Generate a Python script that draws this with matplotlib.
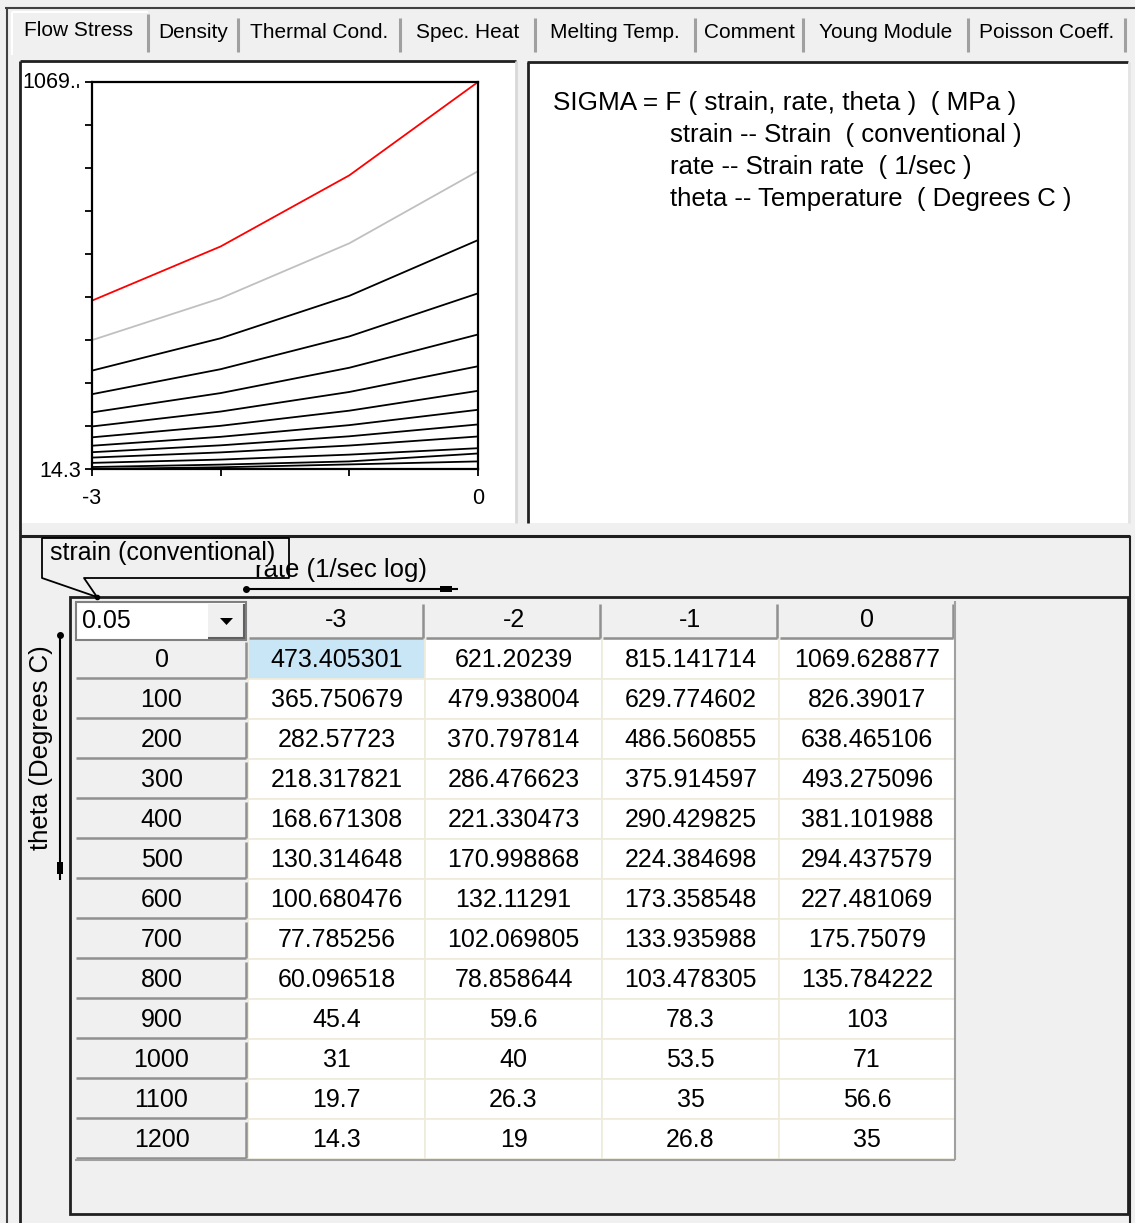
import numpy as np
import matplotlib
matplotlib.use("Agg")
import matplotlib.pyplot as plt
from matplotlib.patches import Rectangle, Polygon

plt.rcParams['font.family'] = ['Liberation Sans', 'DejaVu Sans']

# data: flow stress table, strain = 0.05
rates = [-3, -2, -1, 0]
thetas = [0, 100, 200, 300, 400, 500, 600, 700, 800, 900, 1000, 1100, 1200]
sigma_text = [
    ["473.405301", "621.20239", "815.141714", "1069.628877"],
    ["365.750679", "479.938004", "629.774602", "826.39017"],
    ["282.57723", "370.797814", "486.560855", "638.465106"],
    ["218.317821", "286.476623", "375.914597", "493.275096"],
    ["168.671308", "221.330473", "290.429825", "381.101988"],
    ["130.314648", "170.998868", "224.384698", "294.437579"],
    ["100.680476", "132.11291", "173.358548", "227.481069"],
    ["77.785256", "102.069805", "133.935988", "175.75079"],
    ["60.096518", "78.858644", "103.478305", "135.784222"],
    ["45.4", "59.6", "78.3", "103"],
    ["31", "40", "53.5", "71"],
    ["19.7", "26.3", "35", "56.6"],
    ["14.3", "19", "26.8", "35"],
]
sigma = np.array([[float(v) for v in row] for row in sigma_text])
strain_value = "0.05"

tabs = ["Flow Stress", "Density", "Thermal Cond.", "Spec. Heat", "Melting Temp.",
        "Comment", "Young Module", "Poisson Coeff."]
tab_edges = [10, 148, 238, 400, 535, 695, 803, 968, 1125]

formula = ["SIGMA = F ( strain, rate, theta )  ( MPa )",
           "strain -- Strain  ( conventional )",
           "rate -- Strain rate  ( 1/sec )",
           "theta -- Temperature  ( Degrees C )"]

W, H = 1135, 1223
BG = "#f0f0f0"
FS = 18
fig = plt.figure(figsize=(W / 100, H / 100), dpi=100, facecolor=BG)

ui = fig.add_axes([0, 0, 1, 1])
ui.set_xlim(0, W)
ui.set_ylim(H, 0)
ui.axis("off")
ui.set_zorder(0)


def rect(x0, y0, x1, y1, fc="none", ec="none", lw=1.0, z=1):
    ui.add_patch(Rectangle((x0, y0), x1 - x0, y1 - y0, facecolor=fc,
                           edgecolor=ec, linewidth=lw, zorder=z))


def line(xs, ys, c="black", lw=1.0, z=2):
    ui.plot(xs, ys, color=c, linewidth=lw, zorder=z, solid_capstyle="butt")


# --- outer frame + tabs ---
line([5, W], [8, 8], c="#404040", lw=1.5)
line([7, 7], [8, H], c="#404040", lw=1.5)
for i, name in enumerate(tabs):
    x0, x1 = tab_edges[i], tab_edges[i + 1]
    yc = 30 if i == 0 else 33
    ui.text((x0 + x1) / 2, yc, name, ha="center", va="center", fontsize=15, zorder=3)
    line([x1, x1], [14 if i == 0 else 18, 52], c="#a0a0a0", lw=2.2)
line([12, 12], [12, 55], c="white", lw=1.5)
line([12, 148], [12, 12], c="white", lw=1.5)

# --- upper panels ---
rect(20, 60, 516, 523, fc="white", z=1)
line([20, 516], [61, 61], c="#202020", lw=2)
line([20, 20], [61, H], c="#202020", lw=2)
line([516, 516], [61, 523], c="#d8d8d8", lw=2)
rect(527, 61, 1128, 523, fc="white", z=1)
line([527, 1128], [62, 62], c="#202020", lw=2)
line([528, 528], [62, 523], c="#202020", lw=2)
line([1129, 1129], [62, 523], c="#e4e4e4", lw=2)

ui.text(553, 103, formula[0], ha="left", va="center", fontsize=18.8, zorder=3)
for k, txt in enumerate(formula[1:]):
    ui.text(670, 135 + 32 * k, txt, ha="left", va="center", fontsize=18.5, zorder=3)

# --- chart ---
ax = fig.add_axes([92 / W, 1 - 469 / H, (478 - 92) / W, (469 - 82) / H])
ax.set_zorder(1)
ymin, ymax = sigma.min(), sigma.max()
for i, th in enumerate(thetas):
    c = "#ff0000" if i == 0 else ("#c0c0c0" if i == 1 else "black")
    ax.plot(rates, sigma[i], color=c, linewidth=1.3)
ax.set_xlim(min(rates), max(rates))
ax.set_ylim(ymin, ymax)
ax.set_xticks(rates)
ax.set_xticklabels([str(rates[0])] + [""] * (len(rates) - 2) + [str(rates[-1])], fontsize=15.5)
ax.set_yticks(np.linspace(ymin, ymax, 10))
ax.set_yticklabels([f"{ymin:g}"] + [""] * 9, fontsize=15.5)
ax.tick_params(length=5, width=1.3, color="black")
ax.tick_params(axis="x", pad=9)
ax.tick_params(axis="y", pad=3)
for s in ax.spines.values():
    s.set_linewidth(1.6)
# top label is wider than its slot, only the first characters show
ui.text(22, 82, sigma_text[0][-1][:5], ha="left", va="center", fontsize=15.5, zorder=3)
line([78, 78], [84, 88], lw=1.2, z=3)

# --- lower panel ---
line([20, 1130], [536, 536], c="#202020", lw=2.2)
line([1130, 1130], [536, H], c="#202020", lw=1.5)
rect(70, 597, 1128, 1214, ec="#202020", lw=2, z=1)

col_x = [75, 248, 425, 602, 779, 955]
hdr_top, hdr_bot = 601, 639
row_h = 40

# column headers
for j, r in enumerate(rates):
    x0, x1 = col_x[j + 1], col_x[j + 2]
    rect(x0, hdr_top, x1, hdr_bot, fc=BG, z=2)
    line([x0 + 1, x1 - 2], [hdr_bot - 1, hdr_bot - 1], c="#909090", lw=1.8, z=3)
    line([x1 - 2, x1 - 2], [hdr_top + 3, hdr_bot - 1], c="#909090", lw=1.8, z=3)
    ui.text((x0 + x1) / 2, (hdr_top + hdr_bot) / 2, str(r), ha="center", va="center",
            fontsize=FS, zorder=4)

# combobox with the strain value
rect(76, 602, 246, 640, fc="white", ec="#808080", lw=1.5, z=3)
rect(208, 604, 244, 638, fc=BG, z=3)
line([244, 244], [604, 639], c="#606060", lw=1.5, z=4)
line([208, 244], [638, 638], c="#606060", lw=1.5, z=4)
ui.add_patch(Polygon([[220, 618], [233, 618], [226.5, 625]], closed=True,
                     facecolor="black", edgecolor="none", zorder=5))
ui.text(82, 621, strain_value, ha="left", va="center", fontsize=FS, zorder=5)

# rows
for i, th in enumerate(thetas):
    y0 = hdr_bot + i * row_h
    y1 = y0 + row_h
    rect(col_x[0], y0, col_x[1], y1, fc=BG, z=2)
    line([col_x[0] + 1, col_x[1] - 2], [y1 - 1, y1 - 1], c="#909090", lw=1.8, z=3)
    line([col_x[1] - 2, col_x[1] - 2], [y0 + 3, y1 - 1], c="#909090", lw=1.8, z=3)
    ui.text((col_x[0] + col_x[1]) / 2, (y0 + y1) / 2 + 1, str(th), ha="center",
            va="center", fontsize=FS, zorder=4)
    for j in range(len(rates)):
        x0, x1 = col_x[j + 1], col_x[j + 2]
        fc = "#c8e6f5" if (i == 0 and j == 0) else "white"
        rect(x0, y0, x1, y1, fc=fc, ec="#eeebdc", lw=1.2, z=2)
        ui.text((x0 + x1) / 2, (y0 + y1) / 2 + 1, sigma_text[i][j], ha="center",
                va="center", fontsize=FS, zorder=4)
tbl_bot = hdr_bot + len(thetas) * row_h
line([col_x[0], col_x[-1]], [tbl_bot + 1, tbl_bot + 1], c="#a0a0a0", lw=1.5, z=3)
line([col_x[-1], col_x[-1]], [hdr_top, tbl_bot + 1], c="#a0a0a0", lw=1.5, z=3)

# axis labels of the table
ui.text(255, 570, "rate (1/sec log)", ha="left", va="center", fontsize=18.5, zorder=3)
line([246, 458], [589, 589], lw=1.5, z=3)
ui.plot([246], [589], "o", color="black", markersize=4, zorder=4)
rect(440, 586, 452, 592, fc="black", z=4)

ui.text(41, 748, "theta (Degrees C)", ha="center", va="center", rotation=90,
        fontsize=18.5, zorder=3)
line([60, 60], [635, 880], lw=1.5, z=3)
ui.plot([60], [635], "o", color="black", markersize=4, zorder=4)
rect(57, 862, 63, 874, fc="black", z=4)

# callout
rect(44, 539, 287, 565, fc=BG, z=5)
line([42, 289, 289, 84, 97, 42, 42], [538, 538, 578, 578, 597, 578, 538], lw=1.3, z=6)
ui.plot([97], [597], "o", color="black", markersize=3, zorder=6)
ui.text(50, 553, "strain (conventional)", ha="left", va="center", fontsize=FS, zorder=7)

fig.savefig("out.png", dpi=100, facecolor=BG)
